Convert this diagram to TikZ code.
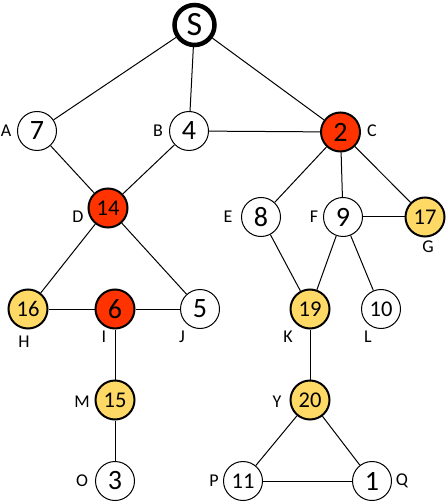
\documentclass[tikz,border=0pt]{standalone}
\usepackage{fontspec}
\setmainfont{Carlito}
\definecolor{redn}{HTML}{FF3300}
\definecolor{yeln}{HTML}{FFD966}
\begin{document}
\begin{tikzpicture}[x=1pt,y=-1pt,
  vtx/.style={circle,draw=black,line width=1pt,fill=white,minimum size=39pt,inner sep=0pt,font=\fontsize{28}{28}\selectfont},
  two/.style={font=\fontsize{22.5}{22.5}\selectfont},
  rednode/.style={fill=redn,line width=2pt},
  yelnode/.style={fill=yeln,line width=2pt},
  lab/.style={font=\fontsize{18}{18}\selectfont,inner sep=0pt},
  edge/.style={line width=1pt}]
\useasboundingbox (0,0) rectangle (446,502);
% nodes
\node[vtx,line width=4.5pt,minimum size=40pt,font=\fontsize{34}{34}\selectfont] (S) at (194.5,25) {S};
\node[vtx] (A) at (37,131) {7};
\node[vtx] (B) at (189,131) {4};
\node[vtx,rednode] (C) at (340.5,132) {2};
\node[vtx,two,rednode] (D) at (108,208) {14};
\node[vtx] (E) at (261,217) {8};
\node[vtx] (F) at (343,217) {9};
\node[vtx,two,yelnode] (G) at (425,217) {17};
\node[vtx,two,yelnode] (H) at (28,309) {16};
\node[vtx,rednode] (I) at (115,309) {6};
\node[vtx] (J) at (200,309) {5};
\node[vtx,two,yelnode] (K) at (310,309) {19};
\node[vtx,two] (L) at (381,309) {10};
\node[vtx,two,yelnode] (M) at (115,400) {15};
\node[vtx,two,yelnode] (Y) at (310,400) {20};
\node[vtx] (O) at (115,481) {3};
\node[vtx,two] (P) at (243,481) {11};
\node[vtx] (Q) at (372,481) {1};
% labels
\node[lab] (lA) at (6,131) {A};
\node[lab] (lB) at (158,131) {B};
\node[lab] (lC) at (372,131) {C};
\node[lab] (lD) at (78,217) {D};
\node[lab] (lE) at (228,217) {E};
\node[lab] (lF) at (314,217) {F};
\node[lab] (lG) at (428,247) {G};
\node[lab] (lH) at (24,342) {H};
\node[lab] (lI) at (104,337) {I};
\node[lab] (lJ) at (182,337) {J};
\node[lab] (lK) at (288,337) {K};
\node[lab] (lL) at (368,337) {L};
\node[lab] (lM) at (82,402) {M};
\node[lab] (lY) at (277,402) {Y};
\node[lab] (lO) at (82,481) {O};
\node[lab] (lP) at (214,481) {P};
\node[lab] (lQ) at (402,481) {Q};
% edges
\draw[edge] (S) -- (A);
\draw[edge] (S) -- (B);
\draw[edge] (S) -- (C);
\draw[edge] (A) -- (D);
\draw[edge] (B) -- (D);
\draw[edge] (B) -- (C);
\draw[edge] (C) -- (E);
\draw[edge] (C) -- (F);
\draw[edge] (C) -- (G);
\draw[edge] (F) -- (G);
\draw[edge] (D) -- (H);
\draw[edge] (D) -- (J);
\draw[edge] (H) -- (I);
\draw[edge] (I) -- (J);
\draw[edge] (E) -- (K);
\draw[edge] (F) -- (K);
\draw[edge] (F) -- (L);
\draw[edge] (I) -- (M);
\draw[edge] (M) -- (O);
\draw[edge] (K) -- (Y);
\draw[edge] (Y) -- (P);
\draw[edge] (Y) -- (Q);
\draw[edge] (P) -- (Q);
\end{tikzpicture}
\end{document}
